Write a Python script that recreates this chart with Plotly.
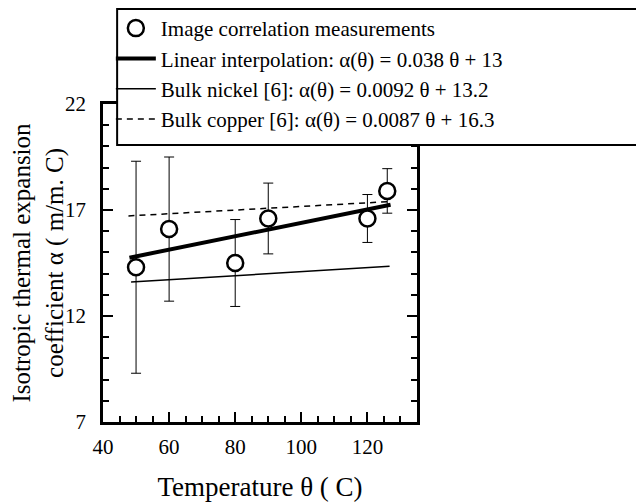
import plotly.graph_objects as go

# measured points (theta in C, alpha) and symmetric error bars
temps = [50, 60, 80, 90, 120, 126]
alpha = [14.3, 16.1, 14.5, 16.6, 16.6, 17.9]
alpha_err = [5.0, 3.4, 2.05, 1.67, 1.13, 1.05]

# fitted / reference lines, endpoints
lin_x = [48, 127]
lin_y = [14.75, 17.25]
nickel_x = [48.5, 126.7]
nickel_y = [13.6, 14.35]
copper_x = [47.7, 127]
copper_y = [16.72, 17.4]

FONT = "Liberation Serif, Times New Roman, serif"

fig = go.Figure()

fig.add_trace(go.Scatter(x=lin_x, y=lin_y, mode="lines",
                         line=dict(color="black", width=4),
                         name="Linear interpolation: α(θ) = 0.038 θ + 13",
                         legendrank=2))
fig.add_trace(go.Scatter(x=nickel_x, y=nickel_y, mode="lines",
                         line=dict(color="black", width=1.5),
                         name="Bulk nickel [6]: α(θ) = 0.0092 θ + 13.2",
                         legendrank=3))
fig.add_trace(go.Scatter(x=copper_x, y=copper_y, mode="lines",
                         line=dict(color="black", width=1.5, dash="6px,5px"),
                         name="Bulk copper [6]: α(θ) = 0.0087 θ + 16.3",
                         legendrank=4))
fig.add_trace(go.Scatter(x=temps, y=alpha, mode="markers",
                         marker=dict(symbol="circle", size=16, color="white",
                                     line=dict(color="black", width=2.5)),
                         error_y=dict(type="data", array=alpha_err, visible=True,
                                      color="black", thickness=1, width=5),
                         name="Image correlation measurements",
                         legendrank=1))

axis_style = dict(showline=True, linecolor="black", linewidth=2.5, mirror="ticks",
                  ticks="inside", tickcolor="black", tickwidth=2, ticklen=10,
                  showgrid=False, zeroline=False, automargin=False,
                  tickfont=dict(family=FONT, size=21, color="black"))

# legend frame: white box running off the right edge, open on that side
fig.add_shape(type="rect", xref="paper", yref="paper",
              x0=0.045, x1=1.9, y0=0.871, y1=1.299,
              fillcolor="white", line=dict(width=0), layer="above")
fig.add_shape(type="path", xref="paper", yref="paper",
              path="M 1.9,0.871 L 0.045,0.871 L 0.045,1.299 L 1.9,1.299",
              line=dict(color="black", width=2), layer="above")

# page body has an 8px margin, so the figure is a bit smaller than the window
fig.update_layout(
    width=636, height=496,
    margin=dict(l=95, r=227, t=96, b=82, autoexpand=False),
    paper_bgcolor="white", plot_bgcolor="white",
    font=dict(family=FONT, color="black"),
    showlegend=True,
    legend=dict(x=0.025, y=1.302, xanchor="left", yanchor="top",
                bgcolor="rgba(0,0,0,0)", borderwidth=0,
                font=dict(family=FONT, size=21, color="black"),
                tracegroupgap=0, itemwidth=40),
    xaxis=dict(range=[40, 135], tickvals=[40, 60, 80, 100, 120],
               minor=dict(dtick=5, ticks="inside", ticklen=6, tickcolor="black", tickwidth=1.5),
               ticklabelstandoff=4,
               title=dict(text="Temperature θ ( C)", font=dict(family=FONT, size=27), standoff=20),
               **axis_style),
    yaxis=dict(range=[7, 22], tickvals=[7, 12, 17, 22],
               minor=dict(dtick=1, ticks="inside", ticklen=6, tickcolor="black", tickwidth=1.5),
               ticklabelstandoff=10,
               title=dict(text="Isotropic thermal expansion<br>coefficient α ( m/m. C)",
                          font=dict(family=FONT, size=25), standoff=6),
               **axis_style),
)

fig.write_html("out.html")
